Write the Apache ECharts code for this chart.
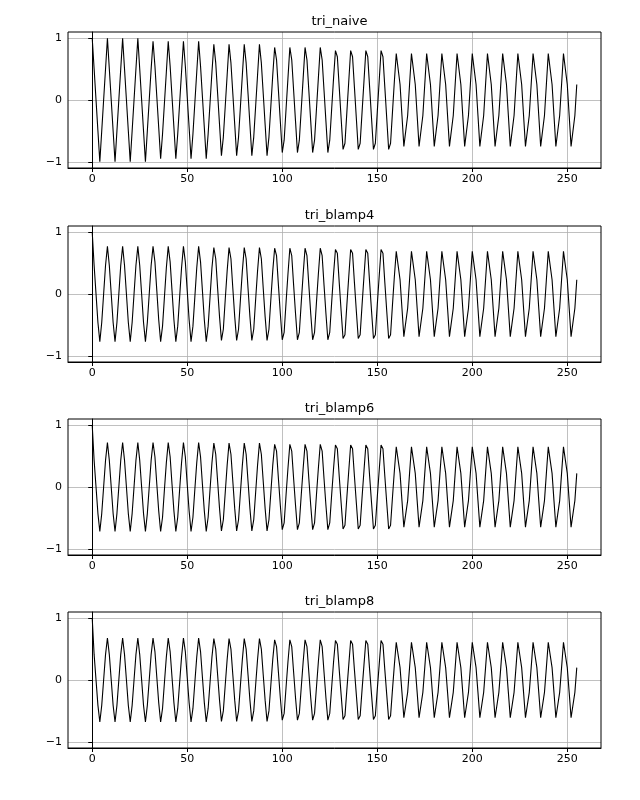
<!DOCTYPE html>
<html><head><meta charset="utf-8">
<script src="https://cdn.jsdelivr.net/npm/echarts@6/dist/echarts.min.js"></script>
<style>html,body{margin:0;padding:0;background:#fff}#c{width:640px;height:800px}</style>
</head><body><div id="c"></div>
<script>
const titles = ["tri_naive","tri_blamp4","tri_blamp6","tri_blamp8"];
const xTicks = [0,50,100,150,200,250];
const yTicks = [-1,0,1];
const triNaive = [
1,0.5,0,-0.5,-1,-0.5,0,0.5, 1,0.5,0,-0.5,-1,-0.5,0,0.5, 1,0.5,0,-0.5,-1,-0.5,0,0.5, 1,0.5,0,-0.5,-1,-0.5,0,0.5,
0.95,0.55,0.05,-0.45,-0.95,-0.55,-0.05,0.45, 0.95,0.55,0.05,-0.45,-0.95,-0.55,-0.05,0.45, 0.95,0.55,0.05,-0.45,-0.95,-0.55,-0.05,0.45, 0.95,0.55,0.05,-0.45,-0.95,-0.55,-0.05,0.45,
0.9,0.6,0.1,-0.4,-0.9,-0.6,-0.1,0.4, 0.9,0.6,0.1,-0.4,-0.9,-0.6,-0.1,0.4, 0.9,0.6,0.1,-0.4,-0.9,-0.6,-0.1,0.4, 0.9,0.6,0.1,-0.4,-0.9,-0.6,-0.1,0.4,
0.85,0.65,0.15,-0.35,-0.85,-0.65,-0.15,0.35, 0.85,0.65,0.15,-0.35,-0.85,-0.65,-0.15,0.35, 0.85,0.65,0.15,-0.35,-0.85,-0.65,-0.15,0.35, 0.85,0.65,0.15,-0.35,-0.85,-0.65,-0.15,0.35,
0.8,0.7,0.2,-0.3,-0.8,-0.7,-0.2,0.3, 0.8,0.7,0.2,-0.3,-0.8,-0.7,-0.2,0.3, 0.8,0.7,0.2,-0.3,-0.8,-0.7,-0.2,0.3, 0.8,0.7,0.2,-0.3,-0.8,-0.7,-0.2,0.3,
0.75,0.75,0.25,-0.25,-0.75,-0.75,-0.25,0.25, 0.75,0.75,0.25,-0.25,-0.75,-0.75,-0.25,0.25, 0.75,0.75,0.25,-0.25,-0.75,-0.75,-0.25,0.25, 0.75,0.75,0.25,-0.25,-0.75,-0.75,-0.25,0.25,
0.75,0.75,0.25,-0.25,-0.75,-0.75,-0.25,0.25, 0.75,0.75,0.25,-0.25,-0.75,-0.75,-0.25,0.25, 0.75,0.75,0.25,-0.25,-0.75,-0.75,-0.25,0.25, 0.75,0.75,0.25,-0.25,-0.75,-0.75,-0.25,0.25,
0.75,0.75,0.25,-0.25,-0.75,-0.75,-0.25,0.25, 0.75,0.75,0.25,-0.25,-0.75,-0.75,-0.25,0.25, 0.75,0.75,0.25,-0.25,-0.75,-0.75,-0.25,0.25, 0.75,0.75,0.25,-0.25,-0.75,-0.75,-0.25,0.25
];
const triBlamp4 = [
1,0.46,0,-0.46,-0.77,-0.46,0,0.46, 0.77,0.46,0,-0.46,-0.77,-0.46,0,0.46, 0.77,0.46,0,-0.46,-0.77,-0.46,0,0.46, 0.77,0.46,0,-0.46,-0.77,-0.46,0,0.46,
0.77,0.52,0.05,-0.42,-0.77,-0.52,-0.05,0.42, 0.77,0.52,0.05,-0.42,-0.77,-0.52,-0.05,0.42, 0.77,0.52,0.05,-0.42,-0.77,-0.52,-0.05,0.42, 0.77,0.52,0.05,-0.42,-0.77,-0.52,-0.05,0.42,
0.75,0.57,0.09,-0.37,-0.75,-0.57,-0.09,0.37, 0.75,0.57,0.09,-0.37,-0.75,-0.57,-0.09,0.37, 0.75,0.57,0.09,-0.37,-0.75,-0.57,-0.09,0.37, 0.75,0.57,0.09,-0.37,-0.75,-0.57,-0.09,0.37,
0.74,0.62,0.14,-0.32,-0.74,-0.62,-0.14,0.32, 0.74,0.62,0.14,-0.32,-0.74,-0.62,-0.14,0.32, 0.74,0.62,0.14,-0.32,-0.74,-0.62,-0.14,0.32, 0.74,0.62,0.14,-0.32,-0.74,-0.62,-0.14,0.32,
0.72,0.66,0.18,-0.28,-0.72,-0.66,-0.18,0.28, 0.72,0.66,0.18,-0.28,-0.72,-0.66,-0.18,0.28, 0.72,0.66,0.18,-0.28,-0.72,-0.66,-0.18,0.28, 0.72,0.66,0.18,-0.28,-0.72,-0.66,-0.18,0.28,
0.69,0.69,0.23,-0.23,-0.69,-0.69,-0.23,0.23, 0.69,0.69,0.23,-0.23,-0.69,-0.69,-0.23,0.23, 0.69,0.69,0.23,-0.23,-0.69,-0.69,-0.23,0.23, 0.69,0.69,0.23,-0.23,-0.69,-0.69,-0.23,0.23,
0.69,0.69,0.23,-0.23,-0.69,-0.69,-0.23,0.23, 0.69,0.69,0.23,-0.23,-0.69,-0.69,-0.23,0.23, 0.69,0.69,0.23,-0.23,-0.69,-0.69,-0.23,0.23, 0.69,0.69,0.23,-0.23,-0.69,-0.69,-0.23,0.23,
0.69,0.69,0.23,-0.23,-0.69,-0.69,-0.23,0.23, 0.69,0.69,0.23,-0.23,-0.69,-0.69,-0.23,0.23, 0.69,0.69,0.23,-0.23,-0.69,-0.69,-0.23,0.23, 0.69,0.69,0.23,-0.23,-0.69,-0.69,-0.23,0.23
];
const triBlamp6 = [
1,0.43,0,-0.43,-0.72,-0.43,0,0.43, 0.72,0.43,0,-0.43,-0.72,-0.43,0,0.43, 0.72,0.43,0,-0.43,-0.72,-0.43,0,0.43, 0.72,0.43,0,-0.43,-0.72,-0.43,0,0.43,
0.72,0.49,0.04,-0.39,-0.72,-0.49,-0.04,0.39, 0.72,0.49,0.04,-0.39,-0.72,-0.49,-0.04,0.39, 0.72,0.49,0.04,-0.39,-0.72,-0.49,-0.04,0.39, 0.72,0.49,0.04,-0.39,-0.72,-0.49,-0.04,0.39,
0.71,0.53,0.09,-0.35,-0.71,-0.53,-0.09,0.35, 0.71,0.53,0.09,-0.35,-0.71,-0.53,-0.09,0.35, 0.71,0.53,0.09,-0.35,-0.71,-0.53,-0.09,0.35, 0.71,0.53,0.09,-0.35,-0.71,-0.53,-0.09,0.35,
0.69,0.58,0.13,-0.30,-0.69,-0.58,-0.13,0.30, 0.69,0.58,0.13,-0.30,-0.69,-0.58,-0.13,0.30, 0.69,0.58,0.13,-0.30,-0.69,-0.58,-0.13,0.30, 0.69,0.58,0.13,-0.30,-0.69,-0.58,-0.13,0.30,
0.68,0.62,0.17,-0.26,-0.68,-0.62,-0.17,0.26, 0.68,0.62,0.17,-0.26,-0.68,-0.62,-0.17,0.26, 0.68,0.62,0.17,-0.26,-0.68,-0.62,-0.17,0.26, 0.68,0.62,0.17,-0.26,-0.68,-0.62,-0.17,0.26,
0.65,0.65,0.22,-0.22,-0.65,-0.65,-0.22,0.22, 0.65,0.65,0.22,-0.22,-0.65,-0.65,-0.22,0.22, 0.65,0.65,0.22,-0.22,-0.65,-0.65,-0.22,0.22, 0.65,0.65,0.22,-0.22,-0.65,-0.65,-0.22,0.22,
0.65,0.65,0.22,-0.22,-0.65,-0.65,-0.22,0.22, 0.65,0.65,0.22,-0.22,-0.65,-0.65,-0.22,0.22, 0.65,0.65,0.22,-0.22,-0.65,-0.65,-0.22,0.22, 0.65,0.65,0.22,-0.22,-0.65,-0.65,-0.22,0.22,
0.65,0.65,0.22,-0.22,-0.65,-0.65,-0.22,0.22, 0.65,0.65,0.22,-0.22,-0.65,-0.65,-0.22,0.22, 0.65,0.65,0.22,-0.22,-0.65,-0.65,-0.22,0.22, 0.65,0.65,0.22,-0.22,-0.65,-0.65,-0.22,0.22
];
const triBlamp8 = [
1,0.41,0,-0.41,-0.68,-0.41,0,0.41, 0.68,0.41,0,-0.41,-0.68,-0.41,0,0.41, 0.68,0.41,0,-0.41,-0.68,-0.41,0,0.41, 0.68,0.41,0,-0.41,-0.68,-0.41,0,0.41,
0.68,0.46,0.04,-0.37,-0.68,-0.46,-0.04,0.37, 0.68,0.46,0.04,-0.37,-0.68,-0.46,-0.04,0.37, 0.68,0.46,0.04,-0.37,-0.68,-0.46,-0.04,0.37, 0.68,0.46,0.04,-0.37,-0.68,-0.46,-0.04,0.37,
0.67,0.50,0.08,-0.33,-0.67,-0.50,-0.08,0.33, 0.67,0.50,0.08,-0.33,-0.67,-0.50,-0.08,0.33, 0.67,0.50,0.08,-0.33,-0.67,-0.50,-0.08,0.33, 0.67,0.50,0.08,-0.33,-0.67,-0.50,-0.08,0.33,
0.65,0.54,0.12,-0.29,-0.65,-0.54,-0.12,0.29, 0.65,0.54,0.12,-0.29,-0.65,-0.54,-0.12,0.29, 0.65,0.54,0.12,-0.29,-0.65,-0.54,-0.12,0.29, 0.65,0.54,0.12,-0.29,-0.65,-0.54,-0.12,0.29,
0.64,0.58,0.16,-0.24,-0.64,-0.58,-0.16,0.24, 0.64,0.58,0.16,-0.24,-0.64,-0.58,-0.16,0.24, 0.64,0.58,0.16,-0.24,-0.64,-0.58,-0.16,0.24, 0.64,0.58,0.16,-0.24,-0.64,-0.58,-0.16,0.24,
0.61,0.61,0.20,-0.20,-0.61,-0.61,-0.20,0.20, 0.61,0.61,0.20,-0.20,-0.61,-0.61,-0.20,0.20, 0.61,0.61,0.20,-0.20,-0.61,-0.61,-0.20,0.20, 0.61,0.61,0.20,-0.20,-0.61,-0.61,-0.20,0.20,
0.61,0.61,0.20,-0.20,-0.61,-0.61,-0.20,0.20, 0.61,0.61,0.20,-0.20,-0.61,-0.61,-0.20,0.20, 0.61,0.61,0.20,-0.20,-0.61,-0.61,-0.20,0.20, 0.61,0.61,0.20,-0.20,-0.61,-0.61,-0.20,0.20,
0.61,0.61,0.20,-0.20,-0.61,-0.61,-0.20,0.20, 0.61,0.61,0.20,-0.20,-0.61,-0.61,-0.20,0.20, 0.61,0.61,0.20,-0.20,-0.61,-0.61,-0.20,0.20, 0.61,0.61,0.20,-0.20,-0.61,-0.61,-0.20,0.20
];
const seriesData = [triNaive, triBlamp4, triBlamp6, triBlamp8];

const tops = [32, 226, 419, 612];
const panelH = 136;
const font = 'DejaVu Sans';
const chart = echarts.init(document.getElementById('c'));
const grid = [], xAxis = [], yAxis = [], series = [], title = [];
seriesData.forEach((arr, i) => {
  grid.push({left: 68, width: 533, top: tops[i], height: panelH});
  title.push({text: titles[i], left: 334.5, top: tops[i] - 22, textAlign: 'center',
    textStyle: {fontFamily: font, fontSize: 13, fontWeight: 'normal', color: '#000'}});
  xAxis.push({type: 'value', gridIndex: i, min: -12.75, max: 267.75,
    axisLine: {onZero: false, lineStyle: {color: '#000'}},
    axisTick: {customValues: xTicks, length: 4, lineStyle: {color: '#000'}},
    axisLabel: {customValues: xTicks, fontFamily: font, fontSize: 11, color: '#000', margin: 6},
    splitLine: {show: true, lineStyle: {color: '#b0b0b0', width: 0.8}}});
  yAxis.push({type: 'value', gridIndex: i, min: -1.1, max: 1.1,
    axisLine: {show: true, lineStyle: {color: '#000'}},
    axisTick: {show: true, customValues: yTicks, length: 4, lineStyle: {color: '#000'}},
    axisLabel: {customValues: yTicks, fontFamily: font, fontSize: 11, color: '#000', margin: 6,
      formatter: v => v < 0 ? '\u2212' + Math.abs(v) : String(v)},
    splitLine: {show: true, lineStyle: {color: '#b0b0b0', width: 0.8}}});
  series.push({type: 'line', xAxisIndex: i, yAxisIndex: i, showSymbol: false, animation: false,
    lineStyle: {color: '#000', width: 1.1}, data: arr.map((v, k) => [k, v])});
});
// top/right frame
const frames = tops.map(t => ({type: 'rect', shape: {x: 68, y: t, width: 533, height: panelH},
  style: {fill: 'none', stroke: '#000', lineWidth: 1}, silent: true, z: 10}));
chart.setOption({animation: false, title, grid, xAxis, yAxis, series, graphic: frames});
</script></body></html>
